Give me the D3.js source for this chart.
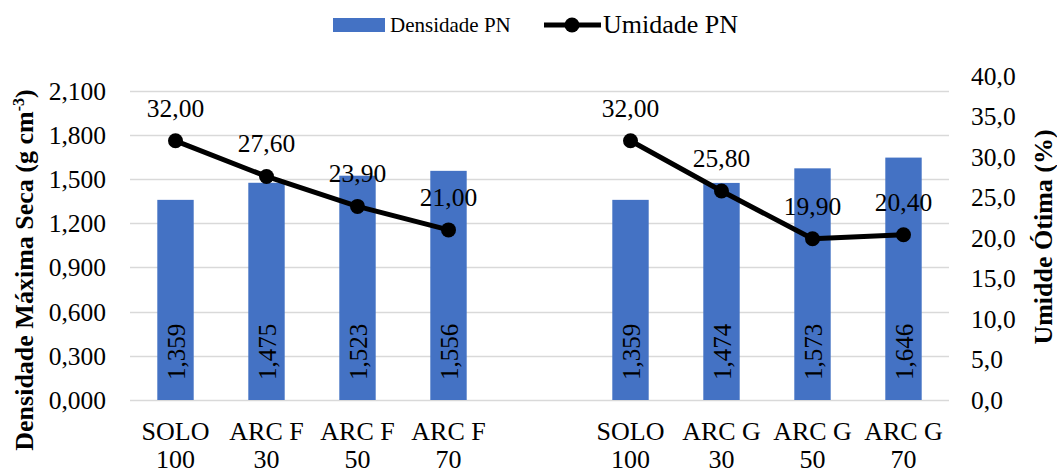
<!DOCTYPE html>
<html><head><meta charset="utf-8">
<script src="https://cdn.jsdelivr.net/npm/d3@7"></script>
<style>
body{margin:0;background:#fff;}
text{font-family:"Liberation Serif","Times New Roman",serif;fill:#000;}
</style></head>
<body><svg id="c" width="1057" height="473"></svg>
<script>
const categories = ["SOLO 100","ARC F 30","ARC F 50","ARC F 70","","SOLO 100","ARC G 30","ARC G 50","ARC G 70"];
const densidade = [1.359,1.475,1.523,1.556,null,1.359,1.474,1.573,1.646];
const umidade = [32.00,27.60,23.90,21.00,null,32.00,25.80,19.90,20.40];
const leftTicks = [0,0.3,0.6,0.9,1.2,1.5,1.8,2.1];
const rightTicks = [0,5,10,15,20,25,30,35,40];

const loc = d3.formatLocale({decimal:",",thousands:".",grouping:[3],currency:["",""]});
const f3 = loc.format(".3f"), f2 = loc.format(".2f"), f1 = loc.format(".1f");

const svg = d3.select("#c");
const L = 130, R = 949, T = 76, B = 400;
const x = d3.scaleBand().domain(d3.range(categories.length)).range([L,R]).paddingInner(0.6).paddingOuter(0.3);
const yL = d3.scaleLinear().domain([0,2.2]).range([B,T]);
const yR = d3.scaleLinear().domain([0,40]).range([B,T]);
const cx = i => x(i) + x.bandwidth()/2;

// gridlines
svg.append("g").selectAll("line").data(leftTicks).join("line")
  .attr("x1",L).attr("x2",R).attr("y1",d=>Math.round(yL(d))+0.5).attr("y2",d=>Math.round(yL(d))+0.5)
  .attr("stroke","#d9d9d9").attr("stroke-width",1.5);

// left axis
const gl = svg.append("g").attr("transform",`translate(${L},0)`)
  .call(d3.axisLeft(yL).tickValues(leftTicks).tickFormat(f3).tickSize(0).tickPadding(24));
gl.select(".domain").remove();
gl.selectAll("text").style("font-size","25.5px").attr("dy","0.33em");

// right axis
const gr = svg.append("g").attr("transform",`translate(${R},0)`)
  .call(d3.axisRight(yR).tickValues(rightTicks).tickFormat(f1).tickSize(0).tickPadding(22));
gr.select(".domain").remove();
gr.selectAll("text").style("font-size","25.5px").attr("dy","0.33em");

// bars
const bi = d3.range(categories.length).filter(i=>densidade[i]!=null);
svg.append("g").selectAll("rect").data(bi).join("rect")
  .attr("x",i=>x(i)).attr("width",x.bandwidth())
  .attr("y",i=>yL(densidade[i])).attr("height",i=>B-yL(densidade[i]))
  .attr("fill","#4472C4");

// bar labels
svg.append("g").selectAll("text").data(bi).join("text")
  .attr("transform",i=>`translate(${cx(i)+9},${B-20}) rotate(-90)`)
  .attr("text-anchor","start").style("font-size","25px")
  .text(i=>f3(densidade[i]));

// line
const line = d3.line().defined(i=>umidade[i]!=null).x(i=>cx(i)).y(i=>yR(umidade[i]));
svg.append("path").datum(d3.range(categories.length)).attr("d",line)
  .attr("fill","none").attr("stroke","#000").attr("stroke-width",5).attr("stroke-linejoin","round");
const pi = d3.range(categories.length).filter(i=>umidade[i]!=null);
svg.append("g").selectAll("circle").data(pi).join("circle")
  .attr("cx",i=>cx(i)).attr("cy",i=>yR(umidade[i])).attr("r",7.5).attr("fill","#000");
svg.append("g").selectAll("text").data(pi).join("text")
  .attr("x",i=>cx(i)).attr("y",i=>yR(umidade[i])-24)
  .attr("text-anchor","middle").style("font-size","25.5px")
  .text(i=>f2(umidade[i]));

// category labels
const cg = svg.append("g");
categories.forEach((c,i)=>{
  if(!c) return;
  const k = c.lastIndexOf(" ");
  const t = cg.append("text").attr("text-anchor","middle").style("font-size","26px");
  t.append("tspan").attr("x",cx(i)).attr("y",440).text(c.slice(0,k));
  t.append("tspan").attr("x",cx(i)).attr("y",468).text(c.slice(k+1));
});

// axis titles
const tl = svg.append("text").attr("transform","translate(33,270) rotate(-90)")
  .attr("text-anchor","middle").style("font-size","26px").style("font-weight","bold");
tl.append("tspan").text("Densidade Máxima Seca (g cm");
tl.append("tspan").attr("dy","-9").style("font-size","16px").text("-3");
tl.append("tspan").attr("dy","9").text(")");
svg.append("text").attr("transform","translate(1052,237) rotate(-90)")
  .attr("text-anchor","middle").style("font-size","26px").style("font-weight","bold")
  .text("Umidde Ótima (%)");

// legend
svg.append("rect").attr("x",333).attr("y",18).attr("width",52).attr("height",14).attr("fill","#4472C4");
svg.append("text").attr("x",390).attr("y",32).style("font-size","21px").text("Densidade PN");
svg.append("line").attr("x1",544).attr("x2",601).attr("y1",25).attr("y2",25).attr("stroke","#000").attr("stroke-width",5);
svg.append("circle").attr("cx",572).attr("cy",25).attr("r",7.5).attr("fill","#000");
svg.append("text").attr("x",603).attr("y",33).style("font-size","26px").text("Umidade PN");
</script></body></html>
